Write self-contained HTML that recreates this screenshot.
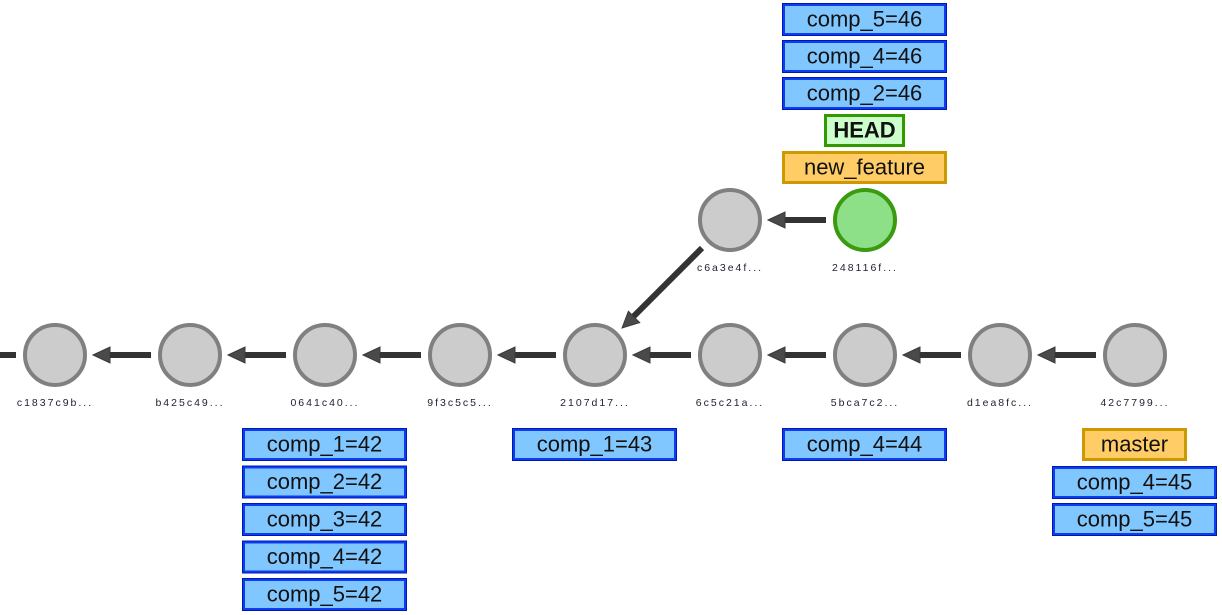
<!DOCTYPE html>
<html>
<head>
<meta charset="utf-8">
<style>
html,body{margin:0;padding:0;background:#fff;}
svg{display:block;}
.lbl{font-family:"Liberation Sans",sans-serif;font-size:22px;fill:#111;text-anchor:middle;}
.hash{font-family:"Liberation Sans",sans-serif;font-size:10.5px;fill:#223;text-anchor:middle;letter-spacing:2px;}
</style>
</head>
<body>
<svg width="1222" height="615" viewBox="0 0 1222 615" xmlns="http://www.w3.org/2000/svg">

<!-- arrows -->
<g stroke="#333" stroke-width="6">
  <line x1="0" y1="355" x2="16" y2="355"/>
  <line x1="151" y1="355" x2="108" y2="355"/>
  <line x1="286" y1="355" x2="243" y2="355"/>
  <line x1="421" y1="355" x2="378" y2="355"/>
  <line x1="556" y1="355" x2="513" y2="355"/>
  <line x1="691" y1="355" x2="648" y2="355"/>
  <line x1="826" y1="355" x2="783" y2="355"/>
  <line x1="961" y1="355" x2="918" y2="355"/>
  <line x1="1096" y1="355" x2="1053" y2="355"/>
  <line x1="826" y1="220" x2="783" y2="220"/>
  <line x1="702" y1="248" x2="633" y2="317"/>
</g>
<g fill="#4a4a4a" stroke="#3a3a3a" stroke-width="1">
  <polygon points="93,355 110,347 110,363"/>
  <polygon points="228,355 245,347 245,363"/>
  <polygon points="363,355 380,347 380,363"/>
  <polygon points="498,355 515,347 515,363"/>
  <polygon points="633,355 650,347 650,363"/>
  <polygon points="768,355 785,347 785,363"/>
  <polygon points="903,355 920,347 920,363"/>
  <polygon points="1038,355 1055,347 1055,363"/>
  <polygon points="768,220 785,212 785,228"/>
  <polygon points="622,328 628.4,311.3 639.7,322.6"/>
</g>

<!-- nodes -->
<g fill="#cccccc" stroke="#808080" stroke-width="4">
  <circle cx="55" cy="355" r="30"/>
  <circle cx="190" cy="355" r="30"/>
  <circle cx="325" cy="355" r="30"/>
  <circle cx="460" cy="355" r="30"/>
  <circle cx="595" cy="355" r="30"/>
  <circle cx="730" cy="355" r="30"/>
  <circle cx="865" cy="355" r="30"/>
  <circle cx="1000" cy="355" r="30"/>
  <circle cx="1135" cy="355" r="30"/>
  <circle cx="730" cy="220" r="30"/>
</g>
<circle cx="865" cy="220" r="30" fill="#8ddf88" stroke="#3a9a10" stroke-width="4"/>

<!-- hash labels -->
<text class="hash" x="55" y="406">c1837c9b...</text>
<text class="hash" x="190" y="406">b425c49...</text>
<text class="hash" x="325" y="406">0641c40...</text>
<text class="hash" x="460" y="406">9f3c5c5...</text>
<text class="hash" x="595" y="406">2107d17...</text>
<text class="hash" x="730" y="406">6c5c21a...</text>
<text class="hash" x="865" y="406">5bca7c2...</text>
<text class="hash" x="1000" y="406">d1ea8fc...</text>
<text class="hash" x="1135" y="406">42c7799...</text>
<text class="hash" x="730" y="271">c6a3e4f...</text>
<text class="hash" x="865" y="271">248116f...</text>

<!-- blue boxes -->
<g fill="#80c6ff" stroke="#0d3cf5" stroke-width="3">
  <rect x="783.5" y="4.5" width="162" height="30"/>
  <rect x="783.5" y="41.5" width="162" height="30"/>
  <rect x="783.5" y="78.5" width="162" height="30"/>
  <rect x="243.5" y="429.5" width="162" height="30"/>
  <rect x="243.5" y="467" width="162" height="30"/>
  <rect x="243.5" y="504.5" width="162" height="30"/>
  <rect x="243.5" y="542" width="162" height="30"/>
  <rect x="243.5" y="579.5" width="162" height="30"/>
  <rect x="513.5" y="429.5" width="162" height="30"/>
  <rect x="783.5" y="429.5" width="162" height="30"/>
  <rect x="1053.5" y="467.5" width="162" height="30"/>
  <rect x="1053.5" y="504.5" width="162" height="30"/>
</g>
<g fill="none" stroke="#0018b0" stroke-width="1">
  <rect x="782.5" y="3.5" width="164" height="32"/>
  <rect x="782.5" y="40.5" width="164" height="32"/>
  <rect x="782.5" y="77.5" width="164" height="32"/>
  <rect x="242.5" y="428.5" width="164" height="32"/>
  <rect x="242.5" y="466" width="164" height="32"/>
  <rect x="242.5" y="503.5" width="164" height="32"/>
  <rect x="242.5" y="541" width="164" height="32"/>
  <rect x="242.5" y="578.5" width="164" height="32"/>
  <rect x="512.5" y="428.5" width="164" height="32"/>
  <rect x="782.5" y="428.5" width="164" height="32"/>
  <rect x="1052.5" y="466.5" width="164" height="32"/>
  <rect x="1052.5" y="503.5" width="164" height="32"/>
</g>

<!-- HEAD -->
<rect x="825.5" y="115.5" width="78" height="30" fill="#ccffcc" stroke="#339900" stroke-width="3"/>
<!-- new_feature -->
<rect x="783.5" y="152.5" width="162" height="30" fill="#ffcc66" stroke="#cc9900" stroke-width="3"/>
<!-- master -->
<rect x="1083.5" y="429.5" width="102" height="30" fill="#ffcc66" stroke="#cc9900" stroke-width="3"/>

<text class="lbl" x="864.5" y="26.5">comp_5=46</text>
<text class="lbl" x="864.5" y="63.5">comp_4=46</text>
<text class="lbl" x="864.5" y="100.5">comp_2=46</text>
<text class="lbl" x="864.5" y="137.5" style="font-weight:bold">HEAD</text>
<text class="lbl" x="864.5" y="174.5">new_feature</text>

<text class="lbl" x="324.5" y="451.5">comp_1=42</text>
<text class="lbl" x="324.5" y="489">comp_2=42</text>
<text class="lbl" x="324.5" y="526.5">comp_3=42</text>
<text class="lbl" x="324.5" y="564">comp_4=42</text>
<text class="lbl" x="324.5" y="601.5">comp_5=42</text>
<text class="lbl" x="594.5" y="451.5">comp_1=43</text>
<text class="lbl" x="864.5" y="451.5">comp_4=44</text>
<text class="lbl" x="1134.5" y="451.5">master</text>
<text class="lbl" x="1134.5" y="489.5">comp_4=45</text>
<text class="lbl" x="1134.5" y="526.5">comp_5=45</text>
</svg>
</body>
</html>
